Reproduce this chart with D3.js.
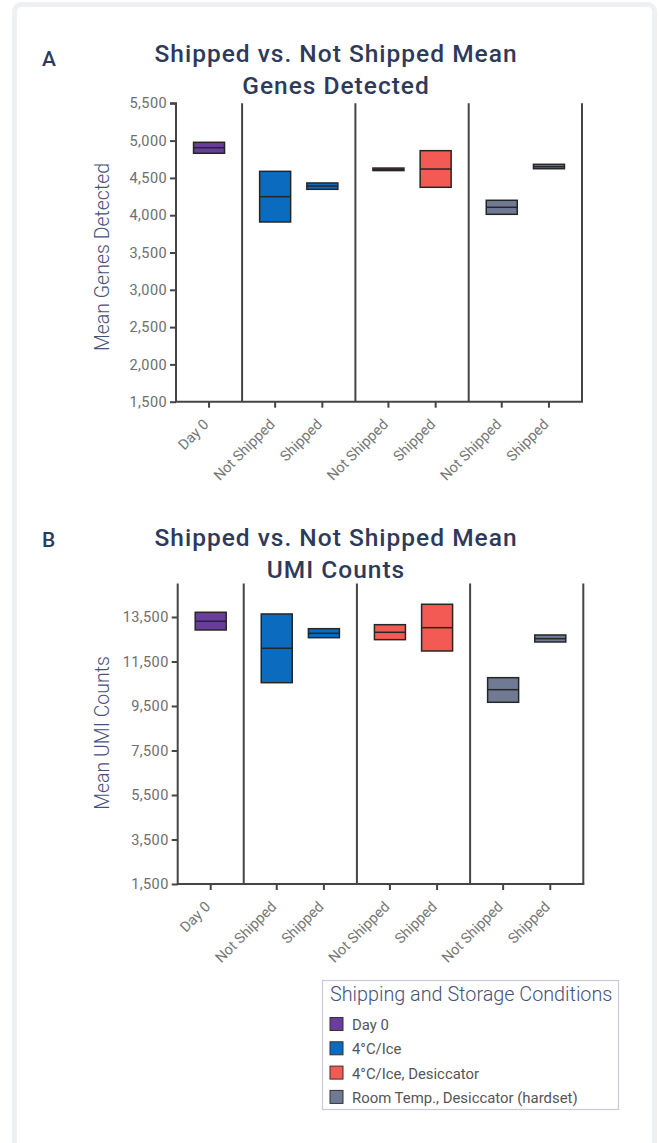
<!DOCTYPE html>
<html>
<head>
<meta charset="utf-8">
<script src="https://cdn.jsdelivr.net/npm/d3@7"></script>
<style>
  html, body { margin: 0; padding: 0; background: #ffffff; }
  svg { display: block; }
</style>
</head>
<body>
<svg id="chart" width="659" height="1143"></svg>
<script>
// Storage / shipping conditions (legend and colour groups)
const groups = ["Day 0", "4°C/Ice", "4°C/Ice, Desiccator", "Room Temp., Desiccator (hardset)"];
const groupColors = ["#6a3d9a", "#0b6cbf", "#f25a53", "#707b93"];

// Sample categories along the x axis, and the group each belongs to
const categories = ["Day 0", "Not Shipped", "Shipped", "Not Shipped", "Shipped", "Not Shipped", "Shipped"];
const categoryGroup = [0, 1, 1, 2, 2, 3, 3];

// Panel A: mean genes detected (box low / median / high)
const genesLow    = [4830, 3909, 4347, 4598, 4374, 4012, 4623];
const genesMedian = [4905, 4248, 4391, 4615, 4619, 4106, 4650];
const genesHigh   = [4977, 4588, 4432, 4632, 4865, 4200, 4682];
const genesTicks  = [1500, 2000, 2500, 3000, 3500, 4000, 4500, 5000, 5500];

// Panel B: mean UMI counts (box low / median / high)
const umiLow    = [12916, 10547, 12570, 12480, 11972, 9666, 12376];
const umiMedian = [13307, 12093, 12767, 12812, 13019, 10233, 12525];
const umiHigh   = [13711, 13635, 12974, 13154, 14071, 10772, 12691];
const umiTicks  = [1500, 3500, 5500, 7500, 9500, 11500, 13500];

const svg = d3.select("#chart");
const titleColor = "#2e3a5c";
const navy = "#46517a";
const axisColor = "#454545";
const fontFamily = "Roboto, 'Noto Sans', sans-serif";

// Card outline
svg.append("rect")
  .attr("x", 14.5).attr("y", 4.5)
  .attr("width", 640).attr("height", 1200)
  .attr("rx", 7)
  .attr("fill", "#ffffff")
  .attr("stroke", "#eef0f3")
  .attr("stroke-width", 5);

// Horizontal layout in "slot" units: each category takes one unit,
// each condition group adds a padding of groupPad split on both sides.
const groupPad = 0.4;
const groupSizes = groups.map((g, i) => categoryGroup.filter(c => c === i).length);
const groupStart = [];
let acc = 0;
groupSizes.forEach(n => { groupStart.push(acc); acc += n + groupPad; });
const totalUnits = acc;
const slotCenter = categories.map((c, i) => {
  const g = categoryGroup[i];
  const k = categoryGroup.slice(0, i).filter(x => x === g).length;
  return groupStart[g] + groupPad / 2 + k + 0.5;
});

function drawPanel(opt) {
  const x = d3.scaleLinear().domain([0, totalUnits]).range([opt.left, opt.right]);
  const y = d3.scaleLinear().domain(opt.domain).range([opt.bottom, opt.top]);
  const g = svg.append("g");

  // Panel letter and title
  g.append("text")
    .attr("x", 42).attr("y", opt.letterY)
    .attr("font-family", fontFamily).attr("font-size", 21).attr("font-weight", 500)
    .attr("fill", titleColor)
    .text(opt.letter);
  opt.title.forEach((line, i) => {
    g.append("text")
      .attr("x", 336).attr("y", opt.titleY + i * 32)
      .attr("text-anchor", "middle")
      .attr("font-family", fontFamily).attr("font-size", 24.5).attr("font-weight", 500)
      .attr("letter-spacing", "1px")
      .attr("fill", titleColor)
      .text(line);
  });

  // Group separators and right border
  const seps = groupStart.slice(1).concat([totalUnits]);
  g.selectAll(".sep").data(seps).join("line")
    .attr("x1", d => x(d)).attr("x2", d => x(d))
    .attr("y1", y(opt.domain[1])).attr("y2", opt.bottom)
    .attr("stroke", axisColor).attr("stroke-width", 2);

  // Y axis
  const yAxis = d3.axisLeft(y).tickValues(opt.ticks).tickFormat(d3.format(",")).tickSize(6).tickPadding(3);
  const ya = g.append("g").attr("transform", `translate(${opt.left},0)`).call(yAxis);
  ya.select(".domain").attr("stroke", axisColor).attr("stroke-width", 2)
    .attr("d", `M-6,${y(opt.domain[1])}H0V${opt.bottom}`);
  if (!opt.topTick) ya.select(".domain").attr("d", `M0,${y(opt.domain[1])}V${opt.bottom}`);
  ya.selectAll(".tick line").attr("stroke", axisColor).attr("stroke-width", 2);
  ya.selectAll(".tick text")
    .attr("font-family", fontFamily).attr("font-size", 14.5)
    .attr("letter-spacing", "0.4px")
    .attr("fill", "#6e6e6e");

  // X axis
  const xa = g.append("g").attr("transform", `translate(0,${opt.bottom})`);
  xa.append("line")
    .attr("x1", opt.left - 1).attr("x2", opt.right + 1)
    .attr("stroke", axisColor).attr("stroke-width", 2);
  const xt = xa.selectAll(".xtick").data(categories).join("g")
    .attr("transform", (d, i) => `translate(${x(slotCenter[i])},0)`);
  xt.append("line").attr("y1", 0).attr("y2", 6)
    .attr("stroke", axisColor).attr("stroke-width", 2);
  xt.append("text")
    .attr("transform", "translate(-3,20) rotate(-45)")
    .attr("text-anchor", "end")
    .attr("dy", "0.35em")
    .attr("font-family", fontFamily).attr("font-size", 14.5)
    .attr("fill", "#777777")
    .text(d => d);

  // Y axis title
  g.append("text")
    .attr("transform", `translate(${opt.yTitleX},${opt.yTitleY}) rotate(-90)`)
    .attr("text-anchor", "middle")
    .attr("font-family", fontFamily).attr("font-size", 19.5).attr("font-weight", 300)
    .attr("fill", navy)
    .text(opt.yTitle);

  // Boxes (low..high) with a median line
  const boxW = 31;
  const boxes = g.selectAll(".box").data(categories).join("g");
  boxes.append("rect")
    .attr("x", (d, i) => x(slotCenter[i]) - boxW / 2)
    .attr("y", (d, i) => y(opt.high[i]))
    .attr("width", boxW)
    .attr("height", (d, i) => Math.max(1, y(opt.low[i]) - y(opt.high[i])))
    .attr("fill", (d, i) => groupColors[categoryGroup[i]])
    .attr("stroke", "#262626").attr("stroke-width", 1.5);
  boxes.append("line")
    .attr("x1", (d, i) => x(slotCenter[i]) - boxW / 2)
    .attr("x2", (d, i) => x(slotCenter[i]) + boxW / 2)
    .attr("y1", (d, i) => y(opt.median[i]))
    .attr("y2", (d, i) => y(opt.median[i]))
    .attr("stroke", "#262626").attr("stroke-width", 1.5);
}

drawPanel({
  letter: "A", letterY: 66, title: ["Shipped vs. Not Shipped Mean", "Genes Detected"], titleY: 62,
  left: 176, right: 582, top: 103.3, bottom: 401.7,
  domain: [1500, 5500], ticks: genesTicks, topTick: true,
  low: genesLow, median: genesMedian, high: genesHigh,
  yTitle: "Mean Genes Detected", yTitleX: 109, yTitleY: 257
});

drawPanel({
  letter: "B", letterY: 547, title: ["Shipped vs. Not Shipped Mean", "UMI Counts"], titleY: 546,
  left: 177.7, right: 583.3, top: 583.6, bottom: 884,
  domain: [1500, 15000], ticks: umiTicks, topTick: false,
  low: umiLow, median: umiMedian, high: umiHigh,
  yTitle: "Mean UMI Counts", yTitleX: 109, yTitleY: 733
});

// Legend
const lg = svg.append("g");
lg.append("rect")
  .attr("x", 322.5).attr("y", 980.5).attr("width", 296).attr("height", 129)
  .attr("fill", "#ffffff").attr("stroke", "#c9c9dc").attr("stroke-width", 1.2);
lg.append("text")
  .attr("x", 330).attr("y", 1001)
  .attr("font-family", fontFamily).attr("font-size", 19.8).attr("font-weight", 300)
  .attr("fill", navy)
  .text("Shipping and Storage Conditions");
const items = lg.selectAll(".item").data(groups).join("g")
  .attr("transform", (d, i) => `translate(330,${1017.5 + i * 24.3})`);
items.append("rect")
  .attr("width", 13).attr("height", 13)
  .attr("fill", (d, i) => groupColors[i])
  .attr("stroke", "#333333").attr("stroke-width", 1);
items.append("text")
  .attr("x", 22).attr("y", 12.5)
  .attr("font-family", fontFamily).attr("font-size", 14.9)
  .attr("fill", "#555555")
  .text(d => d);
</script>
</body>
</html>
